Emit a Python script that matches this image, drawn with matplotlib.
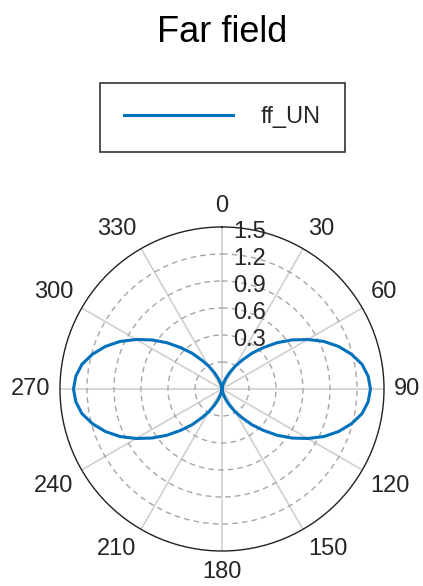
import numpy as np
import matplotlib
matplotlib.use("Agg")
import matplotlib.pyplot as plt

plt.rcParams['font.family'] = ['Liberation Sans', 'DejaVu Sans']

# far field pattern, every 5 degrees (0 at top, clockwise)
theta_deg = list(range(0, 365, 5))
ff_un = [0.00, 0.01, 0.03, 0.07, 0.13, 0.20, 0.29, 0.39, 0.52, 0.65,
         0.80, 0.95, 1.10, 1.25, 1.38, 1.49, 1.58, 1.63, 1.65,
         1.63, 1.58, 1.49, 1.38, 1.25, 1.10, 0.95, 0.80, 0.65,
         0.52, 0.39, 0.29, 0.20, 0.13, 0.07, 0.03, 0.01, 0.00,
         0.01, 0.03, 0.07, 0.13, 0.20, 0.29, 0.39, 0.52, 0.65,
         0.80, 0.95, 1.10, 1.25, 1.38, 1.49, 1.58, 1.63, 1.65,
         1.63, 1.58, 1.49, 1.38, 1.25, 1.10, 0.95, 0.80, 0.65,
         0.52, 0.39, 0.29, 0.20, 0.13, 0.07, 0.03, 0.01, 0.00]

r_ticks = [0.3, 0.6, 0.9, 1.2, 1.5]
r_max = 1.8
theta_ticks = list(range(0, 360, 30))

txt = '#262626'
fig = plt.figure(figsize=(4.23, 5.86), dpi=100)
ax = fig.add_axes([0.1418, 0.0597, 0.766, 0.553], projection='polar')
ax.set_theta_zero_location('N')
ax.set_theta_direction(-1)

line, = ax.plot(np.deg2rad(theta_deg), ff_un, color='#0072BD', lw=2.2, label='ff_UN')

ax.set_ylim(0, r_max)
ax.set_yticks(r_ticks)
ax.set_yticklabels([])
ax.set_xticks(np.deg2rad(theta_ticks))
ax.set_xticklabels([])
ax.yaxis.grid(True, linestyle=(0, (4, 3)), color='#a6a6a6', lw=1.0)
ax.xaxis.grid(True, linestyle='-', color='#d0d0d0', lw=1.2)
ax.spines['polar'].set_color('#222222')
ax.spines['polar'].set_linewidth(1.0)
ax.tick_params(length=0)

# radial labels, stacked above the centre
for r in r_ticks:
    ax.annotate(f'{r:g}', xy=(0, r), xytext=(8, 16), textcoords='offset points',
                ha='left', va='center', fontsize=17, color=txt)

# angle labels outside the circle
for t in theta_ticks:
    s, c = np.sin(np.deg2rad(t)), np.cos(np.deg2rad(t))
    ha = 'left' if s > 0.1 else ('right' if s < -0.1 else 'center')
    va = 'bottom' if c > 0.1 else ('top' if c < -0.1 else 'center')
    ax.annotate(str(t), xy=(np.deg2rad(t), r_max), xytext=(7 * s, 7 * c),
                textcoords='offset points', ha=ha, va=va, fontsize=17,
                color=txt, annotation_clip=False)

fig.text(0.526, 1 - 33 / 586, 'Far field', ha='center', va='center', fontsize=26)

leg = fig.legend(handles=[line], loc='center', bbox_to_anchor=(0.526, 0.800),
                 fontsize=17, handlelength=4.6, handletextpad=1.2, borderpad=1.0,
                 fancybox=False, framealpha=1, edgecolor='#333333')
leg.get_frame().set_linewidth(1.2)
for t in leg.get_texts():
    t.set_color(txt)

fig.savefig('out.png', dpi=100)
